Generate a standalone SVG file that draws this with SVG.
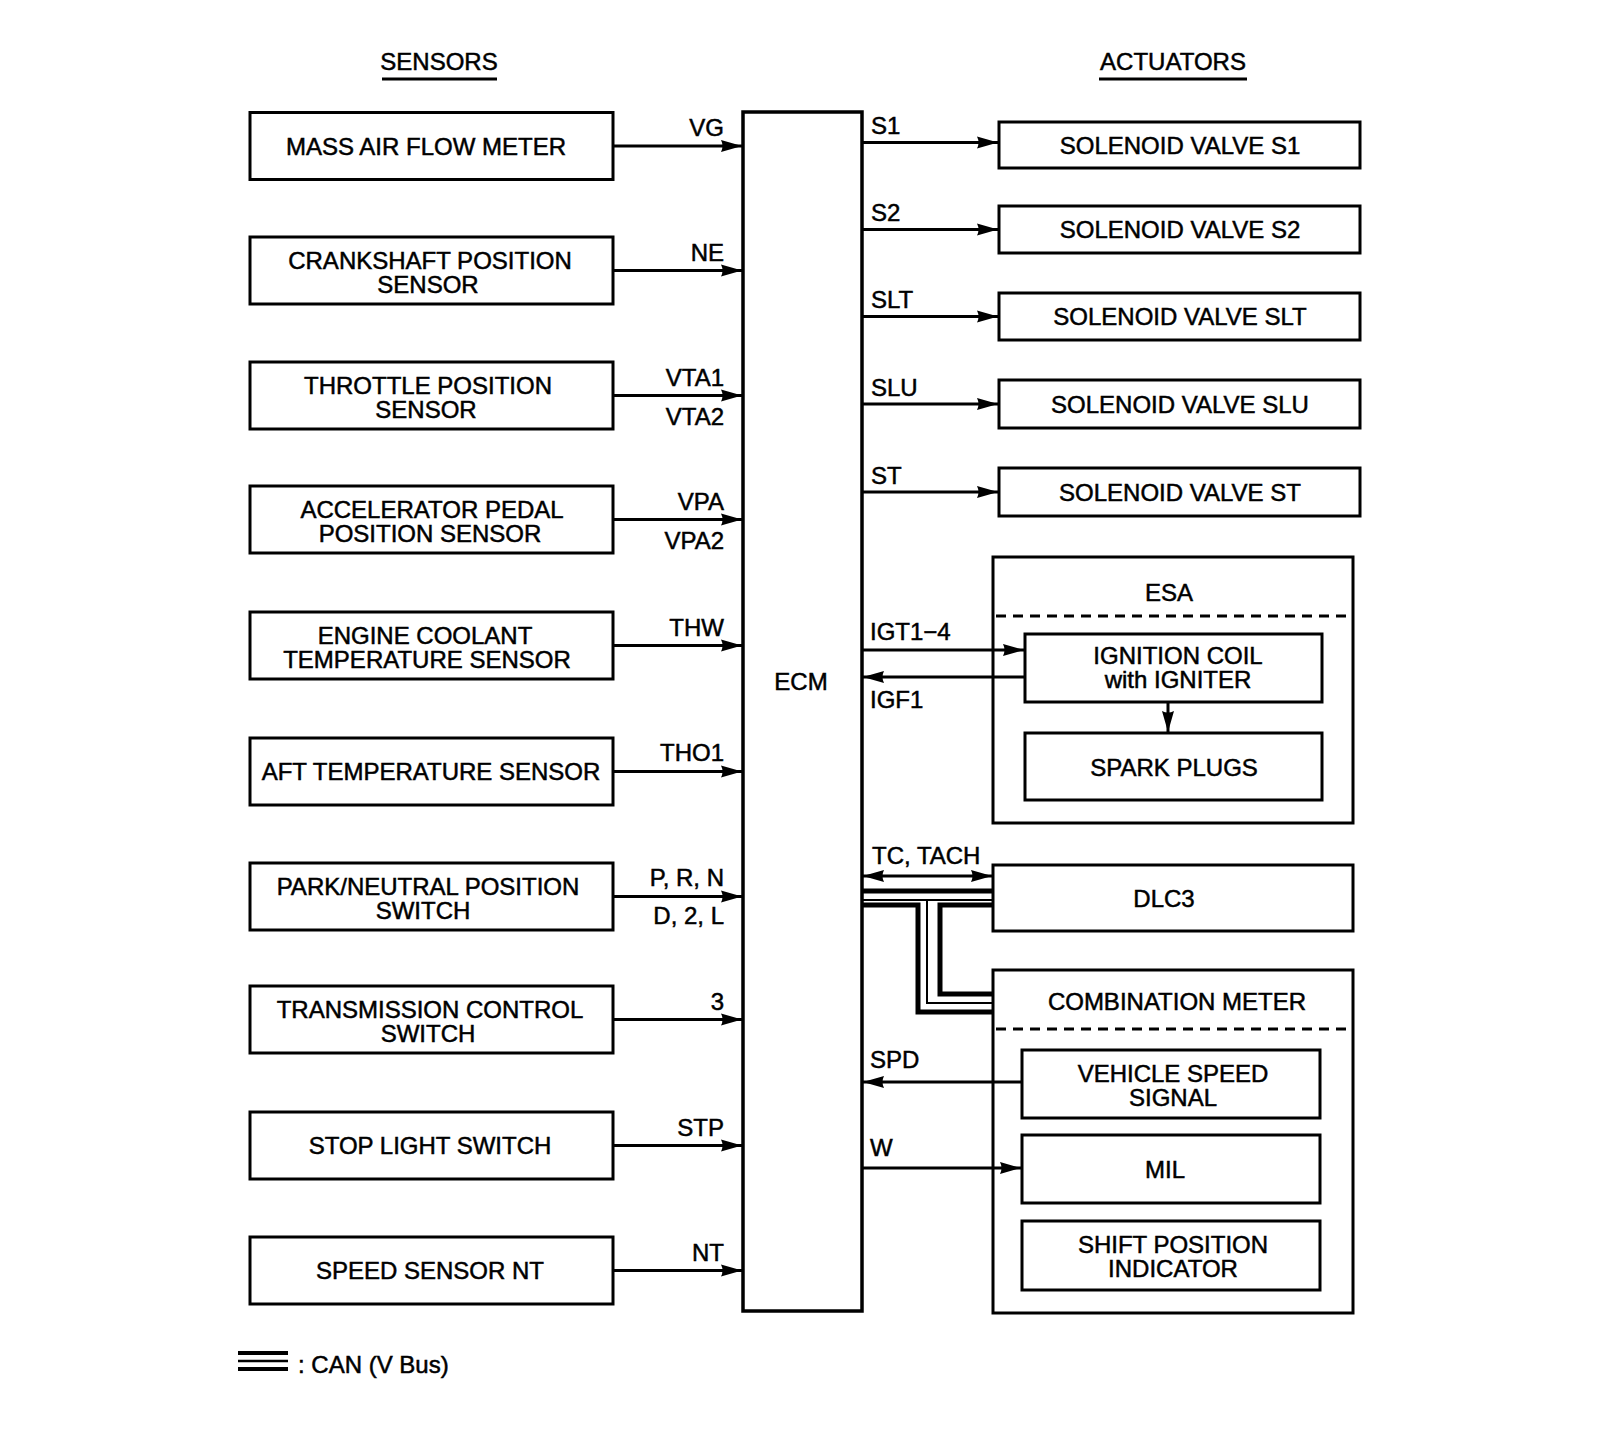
<svg xmlns="http://www.w3.org/2000/svg" width="1600" height="1450" viewBox="0 0 1600 1450">
<defs>
<style>
.box{fill:#fff;stroke:#000;stroke-width:3}
.ecm{fill:#fff;stroke:#000;stroke-width:3.5}
.t{font-family:"Liberation Sans",Arial,sans-serif;font-size:24px;fill:#000;stroke:#000;stroke-width:0.5}
.m{text-anchor:middle}
.e{text-anchor:end}
.w{stroke:#000;stroke-width:3;fill:none}
.dash{stroke:#000;stroke-width:3;stroke-dasharray:10 7;fill:none}
.bus{stroke:#000;fill:none}
.arr{marker-end:url(#ah)}
</style>
<marker id="ah" markerUnits="userSpaceOnUse" markerWidth="24" markerHeight="14" refX="21" refY="7" orient="auto-start-reverse"><path d="M0,1 L21,7 L0,13 Q3,7 0,1 Z" fill="#000"/></marker>
</defs>
<rect width="1600" height="1450" fill="#fff"/>

<g id="headers">
<text class="t m" x="439" y="70">SENSORS</text>
<line x1="382" y1="79" x2="497" y2="79" class="w" stroke-width="2.5"/>
<text class="t m" x="1173" y="70">ACTUATORS</text>
<line x1="1099" y1="79" x2="1247" y2="79" class="w" stroke-width="2.5"/>
</g>

<g id="maf"><rect class="box" x="250" y="112.5" width="363" height="67"/><text class="t m" x="426" y="154.5">MASS AIR FLOW METER</text></g>
<g id="ckp"><rect class="box" x="250" y="237" width="363" height="67"/><text class="t m" x="430" y="268.5">CRANKSHAFT POSITION</text><text class="t m" x="428" y="293">SENSOR</text></g>
<g id="tps"><rect class="box" x="250" y="362" width="363" height="67"/><text class="t m" x="428" y="393.5">THROTTLE POSITION</text><text class="t m" x="426" y="418">SENSOR</text></g>
<g id="apps"><rect class="box" x="250" y="486" width="363" height="67"/><text class="t m" x="432" y="517.5">ACCELERATOR PEDAL</text><text class="t m" x="430" y="542">POSITION SENSOR</text></g>
<g id="ect"><rect class="box" x="250" y="612" width="363" height="67"/><text class="t m" x="425" y="643.5">ENGINE COOLANT</text><text class="t m" x="427" y="668">TEMPERATURE SENSOR</text></g>
<g id="aft"><rect class="box" x="250" y="738" width="363" height="67"/><text class="t m" x="431" y="780">AFT TEMPERATURE SENSOR</text></g>
<g id="pnp"><rect class="box" x="250" y="863" width="363" height="67"/><text class="t m" x="428" y="894.5">PARK/NEUTRAL POSITION</text><text class="t m" x="423" y="919">SWITCH</text></g>
<g id="tcs"><rect class="box" x="250" y="986" width="363" height="67"/><text class="t m" x="430" y="1017.5">TRANSMISSION CONTROL</text><text class="t m" x="428" y="1042">SWITCH</text></g>
<g id="stp"><rect class="box" x="250" y="1112" width="363" height="67"/><text class="t m" x="430" y="1154">STOP LIGHT SWITCH</text></g>
<g id="nt"><rect class="box" x="250" y="1237" width="363" height="67"/><text class="t m" x="430" y="1279">SPEED SENSOR NT</text></g>

<g id="ecm"><rect class="ecm" x="743" y="112" width="119" height="1199"/><text class="t m" x="801" y="690">ECM</text></g>

<g id="s1"><rect class="box" x="999" y="122" width="361" height="46"/><text class="t m" x="1180" y="153.5">SOLENOID VALVE S1</text></g>
<g id="s2"><rect class="box" x="999" y="206" width="361" height="47"/><text class="t m" x="1180" y="238">SOLENOID VALVE S2</text></g>
<g id="slt"><rect class="box" x="999" y="293" width="361" height="47"/><text class="t m" x="1180" y="325">SOLENOID VALVE SLT</text></g>
<g id="slu"><rect class="box" x="999" y="380" width="361" height="48"/><text class="t m" x="1180" y="412.5">SOLENOID VALVE SLU</text></g>
<g id="st"><rect class="box" x="999" y="468" width="361" height="48"/><text class="t m" x="1180" y="500.5">SOLENOID VALVE ST</text></g>

<g id="esa"><rect class="box" x="993" y="557" width="360" height="266"/><text class="t m" x="1169" y="601">ESA</text><line class="dash" x1="996" y1="616" x2="1351" y2="616"/></g>
<g id="coil"><rect class="box" x="1025" y="634" width="297" height="68"/><text class="t m" x="1178" y="664">IGNITION COIL</text><text class="t m" x="1178" y="688">with IGNITER</text></g>
<g id="plugs"><rect class="box" x="1025" y="733" width="297" height="67"/><text class="t m" x="1174" y="775.5">SPARK PLUGS</text></g>

<g id="dlc3"><rect class="box" x="993" y="865" width="360" height="66"/><text class="t m" x="1164" y="906.5">DLC3</text></g>

<g id="meter"><rect class="box" x="993" y="970" width="360" height="343"/><text class="t m" x="1177" y="1010">COMBINATION METER</text><line class="dash" x1="996" y1="1029" x2="1351" y2="1029"/></g>
<g id="vss"><rect class="box" x="1022" y="1050" width="298" height="68"/><text class="t m" x="1173" y="1082">VEHICLE SPEED</text><text class="t m" x="1173" y="1106">SIGNAL</text></g>
<g id="mil"><rect class="box" x="1022" y="1135" width="298" height="68"/><text class="t m" x="1165" y="1177.5">MIL</text></g>
<g id="spi"><rect class="box" x="1022" y="1221" width="298" height="69"/><text class="t m" x="1173" y="1253">SHIFT POSITION</text><text class="t m" x="1173" y="1277">INDICATOR</text></g>

<g id="connectors">
<line class="w arr" x1="613" y1="146" x2="742" y2="146"/>
<line class="w arr" x1="613" y1="270.5" x2="742" y2="270.5"/>
<line class="w arr" x1="613" y1="395.5" x2="742" y2="395.5"/>
<line class="w arr" x1="613" y1="519.5" x2="742" y2="519.5"/>
<line class="w arr" x1="613" y1="645.5" x2="742" y2="645.5"/>
<line class="w arr" x1="613" y1="771.5" x2="742" y2="771.5"/>
<line class="w arr" x1="613" y1="896.5" x2="742" y2="896.5"/>
<line class="w arr" x1="613" y1="1019.5" x2="742" y2="1019.5"/>
<line class="w arr" x1="613" y1="1145.5" x2="742" y2="1145.5"/>
<line class="w arr" x1="613" y1="1270.5" x2="742" y2="1270.5"/>

<line class="w arr" x1="862" y1="142.5" x2="998" y2="142.5"/>
<line class="w arr" x1="862" y1="229.5" x2="998" y2="229.5"/>
<line class="w arr" x1="862" y1="316.5" x2="998" y2="316.5"/>
<line class="w arr" x1="862" y1="404" x2="998" y2="404"/>
<line class="w arr" x1="862" y1="492" x2="998" y2="492"/>

<line class="w arr" x1="862" y1="650" x2="1024" y2="650"/>
<line class="w arr" x1="1025" y1="677" x2="863" y2="677"/>
<line class="w arr" x1="1168" y1="702" x2="1168" y2="732"/>

<line class="w" x1="863" y1="876" x2="992" y2="876" marker-start="url(#ah)" marker-end="url(#ah)"/>

<line class="bus" stroke-width="5" x1="862" y1="891" x2="993" y2="891"/>
<line class="bus" stroke-width="2" x1="862" y1="900" x2="993" y2="900"/>
<polyline class="bus" stroke-width="5" points="862,905 918,905 918,1012 993,1012"/>
<polyline class="bus" stroke-width="2" points="927,900 927,1003 993,1003"/>
<polyline class="bus" stroke-width="5" points="993,905 940,905 940,994 993,994"/>

<line class="w arr" x1="1022" y1="1082" x2="863" y2="1082"/>
<line class="w arr" x1="862" y1="1168" x2="1021" y2="1168"/>
</g>

<g id="labels">
<text class="t e" x="724" y="136">VG</text>
<text class="t e" x="724" y="261">NE</text>
<text class="t e" x="724" y="386">VTA1</text>
<text class="t e" x="724" y="425">VTA2</text>
<text class="t e" x="724" y="510">VPA</text>
<text class="t e" x="724" y="549">VPA2</text>
<text class="t e" x="724" y="636">THW</text>
<text class="t e" x="724" y="761">THO1</text>
<text class="t e" x="724" y="886">P, R, N</text>
<text class="t e" x="724" y="924">D, 2, L</text>
<text class="t e" x="724" y="1010">3</text>
<text class="t e" x="724" y="1136">STP</text>
<text class="t e" x="724" y="1261">NT</text>

<text class="t" x="871" y="134">S1</text>
<text class="t" x="871" y="221">S2</text>
<text class="t" x="871" y="308">SLT</text>
<text class="t" x="871" y="396">SLU</text>
<text class="t" x="871" y="484">ST</text>
<text class="t" x="870" y="640">IGT1−4</text>
<text class="t" x="870" y="708">IGF1</text>
<text class="t" x="872" y="864">TC, TACH</text>
<text class="t" x="870" y="1068">SPD</text>
<text class="t" x="870" y="1156">W</text>
</g>

<g id="legend">
<line class="bus" stroke-width="4" x1="238" y1="1353" x2="288" y2="1353"/>
<line class="bus" stroke-width="2.5" x1="238" y1="1361" x2="288" y2="1361"/>
<line class="bus" stroke-width="4" x1="238" y1="1369" x2="288" y2="1369"/>
<text class="t" x="298" y="1373">: CAN (V Bus)</text>
</g>
</svg>
